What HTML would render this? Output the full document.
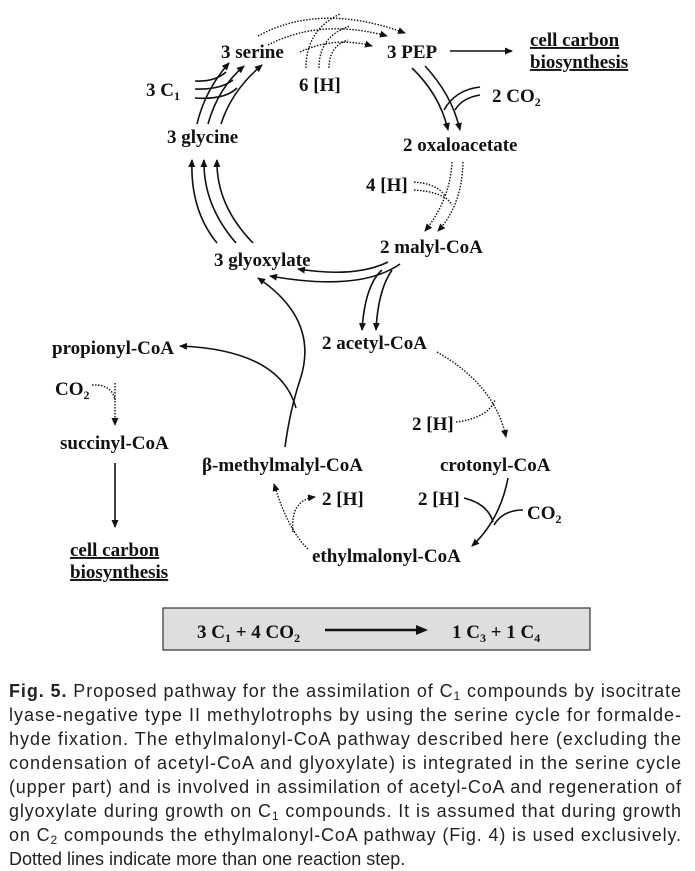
<!DOCTYPE html>
<html><head><meta charset="utf-8"><style>
html,body{margin:0;padding:0;background:#fff;}
svg{display:block;}
.t{font-family:"Liberation Serif",serif;font-weight:bold;font-size:19px;fill:#111;}
.c{font-family:"Liberation Sans",sans-serif;font-size:18px;fill:#222;}
.s{stroke:#111;stroke-width:1.6;fill:none;}
.d{stroke:#111;stroke-width:1.4;fill:none;stroke-dasharray:1.5 1.5;}
</style></head><body>
<svg width="695" height="871" viewBox="0 0 695 871" xmlns="http://www.w3.org/2000/svg">
<defs>
<marker id="a" markerWidth="8" markerHeight="8" refX="7" refY="4" orient="auto" markerUnits="userSpaceOnUse"><path d="M0,0.5 L8,4 L0,7.5 Z" fill="#111"/></marker>
</defs>
<text class="t" x="221" y="58">3 serine</text>
<text class="t" x="387" y="58">3 PEP</text>
<text class="t" x="530" y="46" text-decoration="underline">cell carbon</text>
<text class="t" x="530" y="68" text-decoration="underline">biosynthesis</text>
<text class="t" x="146" y="96">3 C<tspan font-size="12" dy="4">1</tspan></text>
<text class="t" x="299" y="91">6 [H]</text>
<text class="t" x="492" y="102">2 CO<tspan font-size="12" dy="4">2</tspan></text>
<text class="t" x="167" y="143">3 glycine</text>
<text class="t" x="403" y="151">2 oxaloacetate</text>
<text class="t" x="366" y="191">4 [H]</text>
<text class="t" x="380" y="253">2 malyl-CoA</text>
<text class="t" x="214" y="266">3 glyoxylate</text>
<text class="t" x="322" y="349">2 acetyl-CoA</text>
<text class="t" x="52" y="354">propionyl-CoA</text>
<text class="t" x="55" y="395">CO<tspan font-size="12" dy="4">2</tspan></text>
<text class="t" x="412" y="430">2 [H]</text>
<text class="t" x="60" y="449">succinyl-CoA</text>
<text class="t" x="202" y="471">β-methylmalyl-CoA</text>
<text class="t" x="440" y="471">crotonyl-CoA</text>
<text class="t" x="322" y="505">2 [H]</text>
<text class="t" x="418" y="505">2 [H]</text>
<text class="t" x="527" y="519">CO<tspan font-size="12" dy="4">2</tspan></text>
<text class="t" x="312" y="562">ethylmalonyl-CoA</text>
<text class="t" x="70" y="556" text-decoration="underline">cell carbon</text>
<text class="t" x="70" y="578" text-decoration="underline">biosynthesis</text>

<line class="s" x1="450" y1="51" x2="512" y2="51" marker-end="url(#a)"/>
<path class="d" d="M258,36 Q320,2 405,33" marker-end="url(#a)"/>
<path class="d" d="M268,45 Q320,18 387,36" marker-end="url(#a)"/>
<path class="d" d="M300,52 Q335,36 372,46" marker-end="url(#a)"/>
<path class="d" d="M306,68 Q306,30 340,14"/>
<path class="d" d="M319,68 Q319,36 350,26"/>
<path class="d" d="M329,68 Q329,46 348,40"/>
<path class="s" d="M197,124 Q205,90 229,63" marker-end="url(#a)"/>
<path class="s" d="M208,124 Q218,88 244,66" marker-end="url(#a)"/>
<path class="s" d="M221,124 Q232,90 262,65" marker-end="url(#a)"/>
<path class="s" d="M195,81 Q215,82 226,72"/>
<path class="s" d="M195,89 Q220,90 233,80"/>
<path class="s" d="M195,98 Q225,100 237,88"/>
<path class="s" d="M412,68 Q440,95 448,130" marker-end="url(#a)"/>
<path class="s" d="M425,66 Q452,95 460,130" marker-end="url(#a)"/>
<path class="s" d="M480,87 Q455,90 444,110"/>
<path class="s" d="M480,95 Q462,98 455,110"/>
<path class="d" d="M452,162 Q450,200 425,231" marker-end="url(#a)"/>
<path class="d" d="M463,162 Q462,205 438,231" marker-end="url(#a)"/>
<path class="d" d="M414,182 Q438,184 445,196"/>
<path class="d" d="M414,190 Q445,192 452,205"/>
<path class="s" d="M217,243 Q190,210 192,160" marker-end="url(#a)"/>
<path class="s" d="M236,243 Q203,205 204,160" marker-end="url(#a)"/>
<path class="s" d="M253,243 Q216,205 217,160" marker-end="url(#a)"/>
<path class="s" d="M388,262 Q355,278 298,269" marker-end="url(#a)"/>
<path class="s" d="M400,264 Q360,292 270,276" marker-end="url(#a)"/>
<path class="s" d="M382,270 Q365,285 362,330" marker-end="url(#a)"/>
<path class="s" d="M392,270 Q378,290 376,330" marker-end="url(#a)"/>
<path class="s" d="M285,447 Q290,410 300,380 Q320,320 258,278" marker-end="url(#a)"/>
<path class="s" d="M296,408 Q280,350 180,346" marker-end="url(#a)"/>
<path class="d" d="M437,352 Q495,385 506,437" marker-end="url(#a)"/>
<path class="d" d="M456,422 Q488,418 495,400"/>
<path class="s" d="M508,478 Q500,520 472,546" marker-end="url(#a)"/>
<path class="s" d="M464,498 Q488,504 493,522"/>
<path class="s" d="M523,510 Q503,510 494,525"/>
<path class="d" d="M308,549 Q288,530 274,484" marker-end="url(#a)"/>
<path class="d" d="M293,532 Q290,500 315,497" marker-end="url(#a)"/>
<path class="d" d="M115,383 L115,425" marker-end="url(#a)"/>
<path class="d" d="M92,385 Q112,384 115,400"/>
<line class="s" x1="115" y1="463" x2="115" y2="527" marker-end="url(#a)"/>
<rect x="163" y="608" width="427" height="42" fill="#dedede" stroke="#333" stroke-width="1.2"/>
<text class="t" x="197" y="638">3 C<tspan font-size="12" dy="4">1</tspan><tspan dy="-4"> + 4 CO</tspan><tspan font-size="12" dy="4">2</tspan></text>
<line x1="325" y1="630" x2="418" y2="630" stroke="#111" stroke-width="2.5"/>
<path d="M416,625 L428,630 L416,635 Z" fill="#111"/>
<text class="t" x="452" y="638">1 C<tspan font-size="12" dy="4">3</tspan><tspan dy="-4"> + 1 C</tspan><tspan font-size="12" dy="4">4</tspan></text>
<text class="c" x="9" y="697" textLength="672" lengthAdjust="spacing"><tspan font-weight="bold">Fig. 5.</tspan>     Proposed pathway for the assimilation of C<tspan font-size="12" dy="3">1</tspan><tspan dy="-3"> compounds by isocitrate</tspan></text>
<text class="c" x="9" y="721" textLength="672" lengthAdjust="spacing">lyase-negative type II methylotrophs by using the serine cycle for formalde-</text>
<text class="c" x="9" y="745" textLength="672" lengthAdjust="spacing">hyde fixation. The ethylmalonyl-CoA pathway described here (excluding the</text>
<text class="c" x="9" y="769" textLength="672" lengthAdjust="spacing">condensation of acetyl-CoA and glyoxylate) is integrated in the serine cycle</text>
<text class="c" x="9" y="793" textLength="672" lengthAdjust="spacing">(upper part) and is involved in assimilation of acetyl-CoA and regeneration of</text>
<text class="c" x="9" y="817" textLength="672" lengthAdjust="spacing">glyoxylate during growth on C<tspan font-size="12" dy="3">1</tspan><tspan dy="-3"> compounds. It is assumed that during growth</tspan></text>
<text class="c" x="9" y="841" textLength="672" lengthAdjust="spacing">on C<tspan font-size="12" dy="3">2</tspan><tspan dy="-3"> compounds the ethylmalonyl-CoA pathway (Fig. 4) is used exclusively.</tspan></text>
<text class="c" x="9" y="865">Dotted lines indicate more than one reaction step.</text>
</svg>
</body></html>
